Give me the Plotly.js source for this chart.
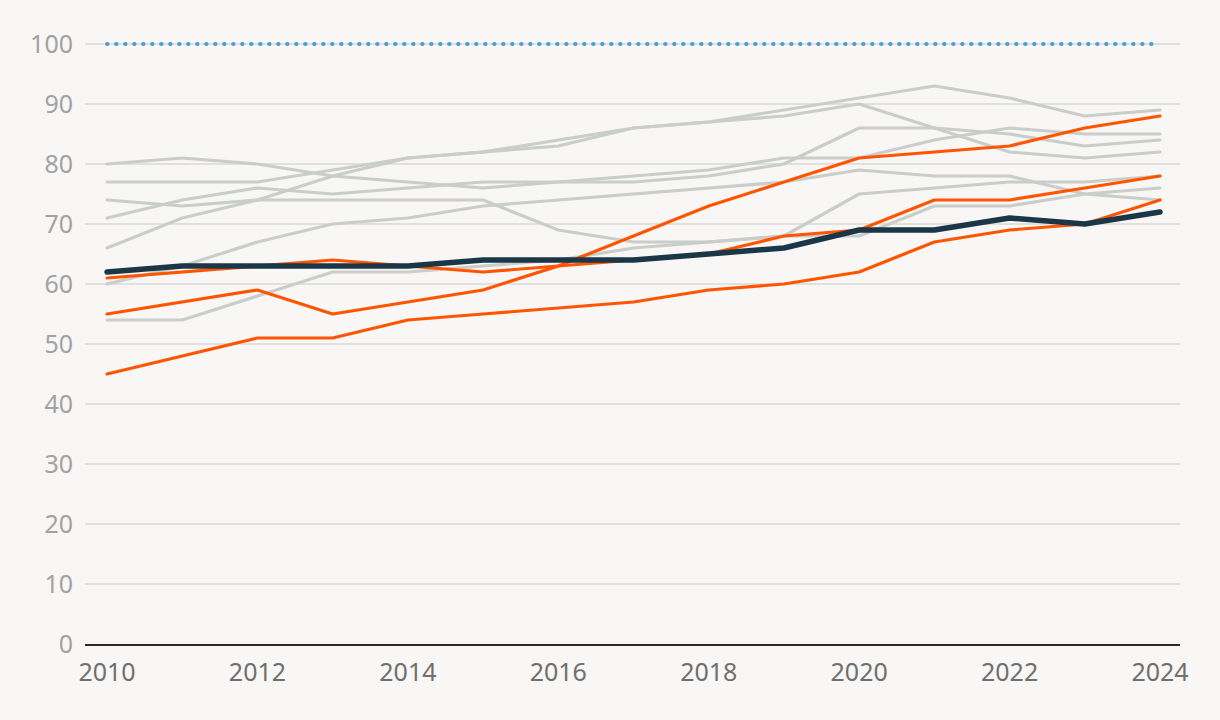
<!DOCTYPE html>
<html>
<head>
<meta charset="utf-8">
<script src="https://cdn.plot.ly/plotly-3.0.1.min.js"></script>
<style>
  html, body { margin: 0; padding: 0; background: #f8f7f5; }
  #chart { width: 1220px; height: 720px; }
  .scatterlayer path.js-line { stroke-linecap: round !important; stroke-linejoin: round !important; }
</style>
</head>
<body>
<div id="chart"></div>
<script>
const years = [2010,2011,2012,2013,2014,2015,2016,2017,2018,2019,2020,2021,2022,2023,2024];

const gray1 = [77,77,77,79,81,82,84,86,87,89,91,93,91,88,89];
const gray2 = [66,71,74,78,81,82,83,86,87,88,90,86,82,81,82];
const gray3 = [80,81,80,78,77,76,77,77,78,80,86,86,85,83,84];
const gray4 = [71,74,76,75,76,77,77,78,79,81,81,84,86,85,85];
const gray5 = [74,73,74,74,74,74,69,67,67,68,75,76,77,77,78];
const gray6 = [60,63,67,70,71,73,74,75,76,77,79,78,78,75,74];
const gray7 = [54,54,58,62,62,63,64,66,67,68,68,73,73,75,76];

const orange1 = [55,57,59,55,57,59,63,68,73,77,81,82,83,86,88];
const orange2 = [61,62,63,64,63,62,63,64,65,68,69,74,74,76,78];
const orange3 = [45,48,51,51,54,55,56,57,59,60,62,67,69,70,74];

const highlight = [62,63,63,63,63,64,64,64,65,66,69,69,71,70,72];
const target = [100,100,100,100,100,100,100,100,100,100,100,100,100,100,100];

const yTicks = [0,10,20,30,40,50,60,70,80,90,100];
const xTicks = [2010,2012,2014,2016,2018,2020,2022,2024];

const grayColor = '#c9cecb';
const orangeColor = '#ff5500';
const darkColor = '#1b3747';
const blueColor = '#4b9fd3';

const traces = [];
[gray1, gray2, gray3, gray4, gray5, gray6, gray7].forEach(s => {
  traces.push({x: years, y: s, type: 'scatter', mode: 'lines',
    line: {color: grayColor, width: 3.2}, hoverinfo: 'skip'});
});
[orange1, orange2, orange3].forEach(s => {
  traces.push({x: years, y: s, type: 'scatter', mode: 'lines',
    line: {color: orangeColor, width: 3.2}, hoverinfo: 'skip'});
});
traces.push({x: years, y: highlight, type: 'scatter', mode: 'lines',
  line: {color: darkColor, width: 5.5}, hoverinfo: 'skip'});
traces.push({x: years, y: target, type: 'scatter', mode: 'lines',
  line: {color: blueColor, width: 3.8, dash: '0.6px,8.4px'}, hoverinfo: 'skip'});

const layout = {
  width: 1220, height: 720,
  paper_bgcolor: '#f8f7f5', plot_bgcolor: '#f8f7f5',
  margin: {l: 85, r: 40, t: 32, b: 76},
  showlegend: false,
  font: {family: 'Noto Sans, sans-serif', size: 25},
  xaxis: {
    range: [2009.707, 2024.266],
    tickvals: xTicks, ticktext: xTicks.map(String),
    showgrid: false, zeroline: false,
    showline: true, linecolor: '#2b2b2b', linewidth: 1.5,
    ticks: '', ticklabelstandoff: 5,
    tickfont: {color: '#6f6f6f', size: 25, family: 'Noto Sans, sans-serif'}
  },
  yaxis: {
    range: [0, 102],
    tickvals: yTicks, ticktext: yTicks.map(String),
    showgrid: true, gridcolor: '#e1e0dd', gridwidth: 1.5,
    zeroline: false, showline: false,
    ticks: '', ticklabelstandoff: 11,
    tickfont: {color: '#a2a2a2', size: 25, family: 'Noto Sans, sans-serif'}
  }
};

Plotly.newPlot('chart', traces, layout, {displayModeBar: false, staticPlot: true});
</script>
</body>
</html>
